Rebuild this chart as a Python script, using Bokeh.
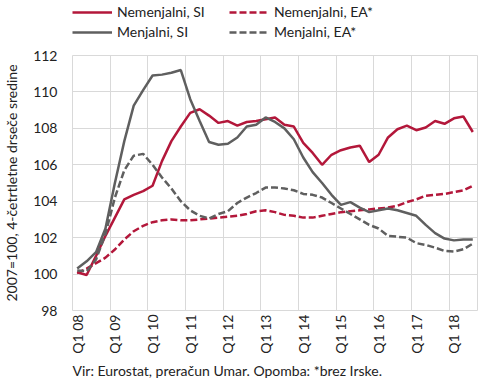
from bokeh.plotting import figure
from bokeh.models import (Range1d, FixedTicker, Legend, LegendItem, Title, ColumnDataSource)
from bokeh.layouts import column
from bokeh.embed import file_html
from bokeh.resources import INLINE
import math

# Quarterly data Q1 2008 .. Q3 2018 (43 quarters)
quarters = [f"Q{q} {y:02d}" for y in range(8, 19) for q in range(1, 5)][:43]

nemenjalni_si = [100.1, 99.95, 101.0, 102.1, 103.1, 104.1, 104.35, 104.55, 104.85, 106.2,
                 107.3, 108.1, 108.85, 109.05, 108.7, 108.3, 108.4, 108.15, 108.35, 108.4,
                 108.5, 108.6, 108.2, 108.1, 107.2, 106.65, 106.0, 106.55, 106.8, 106.95,
                 107.05, 106.15, 106.55, 107.5, 107.95, 108.15, 107.9, 108.05, 108.4, 108.25,
                 108.55, 108.65, 107.8]
nemenjalni_ea = [100.05, 100.3, 100.6, 100.9, 101.35, 101.9, 102.35, 102.65, 102.85, 102.95,
                 103.0, 102.95, 102.95, 103.0, 103.05, 103.1, 103.15, 103.2, 103.3, 103.45,
                 103.5, 103.4, 103.25, 103.2, 103.1, 103.1, 103.2, 103.3, 103.4, 103.45,
                 103.5, 103.55, 103.6, 103.65, 103.75, 103.95, 104.1, 104.3, 104.35, 104.4,
                 104.5, 104.6, 104.85]
menjalni_si = [100.3, 100.7, 101.2, 102.5, 105.0, 107.3, 109.25, 110.1, 110.9, 110.95,
               111.05, 111.2, 109.6, 108.4, 107.25, 107.1, 107.15, 107.5, 108.1, 108.2,
               108.6, 108.35, 108.0, 107.4, 106.4, 105.6, 105.0, 104.35, 103.8, 103.95,
               103.65, 103.4, 103.5, 103.6, 103.5, 103.35, 103.2, 102.7, 102.25, 101.95,
               101.85, 101.9, 101.9]
menjalni_ea = [100.2, 100.15, 100.8, 102.2, 104.2, 105.7, 106.5, 106.6, 106.0, 105.3,
               104.7, 104.0, 103.5, 103.2, 103.05, 103.3, 103.45, 103.9, 104.2, 104.45,
               104.75, 104.75, 104.7, 104.6, 104.4, 104.35, 104.2, 103.9, 103.6, 103.3,
               103.0, 102.7, 102.5, 102.1, 102.05, 102.0, 101.7, 101.6, 101.45, 101.27,
               101.24, 101.36, 101.67]

y_ticks = [98, 100, 102, 104, 106, 108, 110, 112]
legend_labels = ["Nemenjalni, SI", "Nemenjalni, EA*", "Menjalni, SI", "Menjalni, EA*"]
y_label = "2007=100, 4-četrtletne drseče sredine"
footer = "Vir: Eurostat, preračun Umar. Opomba: *brez Irske."

RED = "#b3173a"
GRAY = "#5f5f5f"
FONT = "Lato"
TXT = "#222222"

styles = [dict(line_color=RED, line_width=2.5),
          dict(line_color=RED, line_width=2.5, line_dash="7 3"),
          dict(line_color=GRAY, line_width=2.5),
          dict(line_color=GRAY, line_width=2.5, line_dash="7 3")]
cols = ["nsi", "nea", "msi", "mea"]

xs = [i + 0.5 for i in range(len(quarters))]
src = ColumnDataSource(dict(x=xs, nsi=nemenjalni_si, nea=nemenjalni_ea,
                            msi=menjalni_si, mea=menjalni_ea))

W = 490
LEG_H = 45
BT, BB, BL, BR = 10, 71, 71, 13
MAIN_H = 382 - LEG_H

# ---------- legend strip on top (series drawn out of its visible range) ----------
lf = figure(width=W, height=LEG_H, output_backend="svg", toolbar_location=None,
            x_range=Range1d(0, len(quarters)), y_range=Range1d(0, 1),
            min_border_left=0, min_border_right=0, min_border_top=0, min_border_bottom=0)
lf.axis.visible = False
lf.grid.visible = False
lf.outline_line_color = None
lf.background_fill_color = "white"
lf.border_fill_color = "white"
lr = [lf.line("x", c, source=src, **s) for c, s in zip(cols, styles)]

def make_legend(items, x, y):
    return Legend(items=items, location=(x, y), orientation="vertical",
                  glyph_width=40, glyph_height=14, label_height=14, spacing=3,
                  padding=0, margin=0, label_standoff=5,
                  label_text_font=FONT, label_text_font_size="14px",
                  label_text_color=TXT, background_fill_alpha=0,
                  border_line_color=None)

leg_y = 5
leg1 = make_legend([LegendItem(label=legend_labels[0], renderers=[lr[0]]),
                    LegendItem(label=legend_labels[2], renderers=[lr[2]])], 0, leg_y)
leg2 = make_legend([LegendItem(label=legend_labels[1], renderers=[lr[1]]),
                    LegendItem(label=legend_labels[3], renderers=[lr[3]])], 157, leg_y)
lf.add_layout(leg1, "center")
lf.add_layout(leg2, "center")

# ---------- main chart ----------
p = figure(width=W, height=MAIN_H, output_backend="svg", toolbar_location=None,
           x_range=Range1d(0, len(quarters)), y_range=Range1d(98, 112),
           min_border_left=BL, min_border_right=BR, min_border_top=BT, min_border_bottom=BB)

for c, s in zip(cols, styles):
    p.line("x", c, source=src, **s)

tick_pos = [i + 0.5 for i in range(0, len(quarters), 4)]
p.xaxis.ticker = FixedTicker(ticks=tick_pos)
p.xaxis.major_label_overrides = {i + 0.5: quarters[i] for i in range(0, len(quarters), 4)}
p.xaxis.major_label_orientation = math.pi / 2
p.xaxis.major_label_standoff = 4
p.xgrid.ticker = FixedTicker(ticks=list(range(0, len(quarters), 4)))

p.yaxis.ticker = FixedTicker(ticks=y_ticks)
p.yaxis.axis_label = y_label
p.yaxis.major_label_standoff = 15
p.yaxis.axis_label_standoff = 10

for ax in (p.xaxis[0], p.yaxis[0]):
    ax.axis_line_color = None
    ax.major_tick_line_color = None
    ax.minor_tick_line_color = None
    ax.major_tick_out = 0
    ax.major_tick_in = 0
    ax.minor_tick_out = 0
    ax.minor_tick_in = 0
    ax.major_label_text_font = FONT
    ax.major_label_text_font_size = "14px"
    ax.major_label_text_color = TXT
    ax.axis_label_text_font = FONT
    ax.axis_label_text_font_size = "14px"
    ax.axis_label_text_font_style = "normal"
    ax.axis_label_text_color = TXT

p.grid.grid_line_color = "#d9d9d9"
p.grid.grid_line_width = 1
p.outline_line_color = "#d9d9d9"
p.outline_line_width = 1
p.background_fill_color = "white"
p.border_fill_color = "white"

t = Title(text=footer, align="left", text_font=FONT, text_font_size="14px",
          text_font_style="normal", text_color=TXT, standoff=7)
p.add_layout(t, "below")

layout = column(lf, p, spacing=0)
open("out.html", "w").write(file_html(layout, INLINE))
